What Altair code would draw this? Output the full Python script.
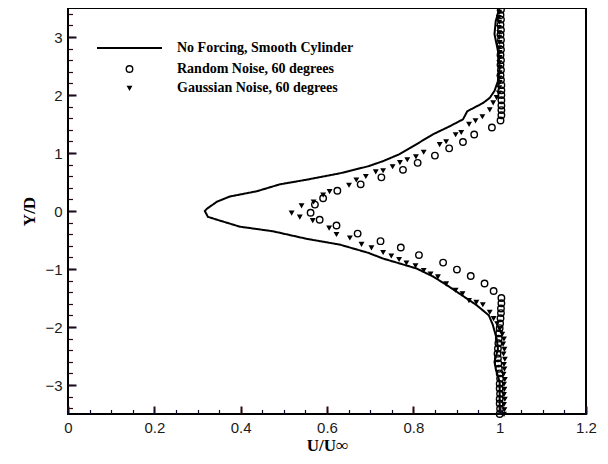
import altair as alt
import pandas as pd

LINE_NAME = "No Forcing, Smooth Cylinder"
RN_NAME = "Random Noise, 60 degrees"
GN_NAME = "Gaussian Noise, 60 degrees"

# Smooth cylinder (solid line): Y/D and U/Uinf
line_y = [3.5, 3.45, 3.28, 3.05, 2.76, 2.47, 2.24, 2.07, 1.95, 1.86, 1.72, 1.58, 1.46, 1.32,
          1.15, 0.98, 0.86, 0.77, 0.65, 0.54, 0.46, 0.34, 0.25, 0.16, 0.04, 0.0, -0.1, -0.15,
          -0.27, -0.35, -0.48, -0.58, -0.72, -0.82, -0.99, -1.13, -1.31, -1.62, -1.8, -1.96,
          -2.2, -2.38, -2.6, -2.72, -2.95, -3.5]
line_u = [1.0, 0.998, 0.991, 0.988, 0.996, 1.0, 0.996, 0.988, 0.977, 0.961, 0.925, 0.915, 0.884, 0.845,
          0.807, 0.768, 0.73, 0.695, 0.63, 0.553, 0.491, 0.437, 0.375, 0.345, 0.322, 0.317, 0.324, 0.345,
          0.398, 0.475, 0.553, 0.63, 0.695, 0.73, 0.807, 0.846, 0.884, 0.946, 0.975, 0.984,
          0.993, 0.996, 0.988, 0.991, 1.0, 1.0]

# Random noise (open circles)
rn_y = [3.47, 3.38, 3.30, 3.21, 3.12, 3.04, 2.95, 2.86, 2.78, 2.69,
        2.60, 2.52, 2.43, 2.34, 2.26, 2.17, 2.08, 2.00, 1.91, 1.82,
        1.74, 1.65, 1.56,
        1.44, 1.32, 1.19, 1.08, 0.955, 0.83, 0.71, 0.58, 0.46, 0.35,
        0.22, 0.11, -0.03, -0.15, -0.25, -0.39, -0.52, -0.63, -0.76, -0.89,
        -1.01, -1.12, -1.25, -1.38,
        -1.50, -1.59, -1.68, -1.76, -1.85, -1.94, -2.02, -2.11, -2.20, -2.28,
        -2.37, -2.46, -2.54, -2.63, -2.72, -2.80, -2.89, -2.98, -3.06, -3.15,
        -3.24, -3.32, -3.41, -3.50]
rn_u = [1.003, 1.002, 1.003, 1.002, 1.003, 1.002, 1.003, 1.002, 1.003, 1.002,
        1.003, 1.002, 1.003, 1.002, 1.003, 1.004, 1.004, 1.004, 1.004, 1.004,
        1.004, 1.004, 1.002,
        0.982, 0.941, 0.915, 0.883, 0.85, 0.81, 0.776, 0.726, 0.678, 0.624,
        0.591, 0.572, 0.562, 0.583, 0.622, 0.671, 0.724, 0.771, 0.813, 0.869,
        0.901, 0.933, 0.965, 0.986,
        1.004, 1.004, 1.003, 1.003, 1.002, 1.001, 1.0, 0.999, 0.998, 0.997,
        0.996, 0.995, 0.996, 0.997, 0.998, 1.0, 1.001, 1.0, 1.0, 1.001,
        1.0, 1.0, 1.001, 1.0]

# Gaussian noise (filled down-triangles)
gn_y = [3.43, 3.34, 3.26, 3.17, 3.08, 3.00, 2.91, 2.82, 2.74, 2.65,
        2.56, 2.48, 2.39, 2.30, 2.22, 2.13, 2.04, 1.96,
        1.87, 1.75, 1.63, 1.56, 1.50, 1.36, 1.32, 1.20, 1.15, 1.02,
        0.94, 0.89, 0.84, 0.77, 0.70, 0.68, 0.60, 0.54,
        0.45, 0.34, 0.28, 0.16, 0.095, -0.03, -0.10, -0.16, -0.29, -0.40, -0.46,
        -0.57, -0.63, -0.71, -0.77, -0.83, -0.89, -0.94, -1.02, -1.08, -1.13,
        -1.25, -1.36, -1.42, -1.54, -1.57, -1.61, -1.74, -1.85, -1.94,
        -2.03, -2.12, -2.20, -2.29, -2.38, -2.46, -2.55, -2.64, -2.72, -2.81,
        -2.90, -2.98, -3.07, -3.16, -3.24, -3.33, -3.42, -3.50]
gn_u = [0.999, 0.998, 0.999, 0.998, 0.999, 0.999, 1.0, 0.999, 1.0, 1.0,
        0.999, 1.0, 1.0, 0.999, 1.0, 0.999, 0.998, 0.993,
        0.985, 0.977, 0.96, 0.944, 0.929, 0.911, 0.898, 0.876, 0.861, 0.824,
        0.806, 0.786, 0.769, 0.752, 0.73, 0.713, 0.69, 0.668,
        0.651, 0.606, 0.591, 0.569, 0.541, 0.518, 0.537, 0.567, 0.605, 0.622, 0.653,
        0.68, 0.703, 0.73, 0.749, 0.767, 0.784, 0.805, 0.824, 0.84, 0.857,
        0.876, 0.898, 0.914, 0.929, 0.946, 0.961, 0.977, 0.986, 0.994,
        1.0, 1.006, 1.01, 1.008, 1.011, 1.009, 1.012, 1.01, 1.011, 1.009,
        1.012, 1.01, 1.011, 1.01, 1.012, 1.01, 1.011, 1.01]

x_major = [0, 0.2, 0.4, 0.6, 0.8, 1.0, 1.2]
x_minor = [round(i * 0.05, 2) for i in range(25)]
y_major = [-3, -2, -1, 0, 1, 2, 3]
y_minor = [round(-3.4 + i * 0.2, 1) for i in range(35)]

line_df = pd.DataFrame({"u": line_u, "Y": line_y, "i": list(range(len(line_y))),
                        "s": [LINE_NAME] * len(line_y)})
pts_df = pd.DataFrame({
    "u": rn_u + gn_u,
    "Y": rn_y + gn_y,
    "series": [RN_NAME] * len(rn_y) + [GN_NAME] * len(gn_y),
})

xs = alt.Scale(domain=[0, 1.2], nice=False, zero=False)
ys = alt.Scale(domain=[-3.5, 3.5], nice=False, zero=False)

TICK_FONT = "Liberation Sans"
SERIF = "Liberation Serif"

x_major_axis = alt.Axis(values=x_major, format="~g", orient="bottom", offset=-8, tickSize=8,
                        tickWidth=2, tickColor="#2a0a0a", domain=False, grid=False, zindex=1,
                        labelFont=TICK_FONT, labelFontSize=15, labelColor="#1a1a1a",
                        labelPadding=6, labelFlush=False, labelOverlap=False,
                        title="U/U∞", titleFont=SERIF, titleFontWeight="bold",
                        titleFontSize=17, titleColor="black", titlePadding=2)
x_minor_axis = alt.Axis(values=x_minor, orient="bottom", offset=-4.5, tickSize=4.5,
                        tickWidth=1.2, tickColor="#0a0a2a", domain=False, grid=False, zindex=1,
                        labels=False, title=None)
y_major_axis = alt.Axis(values=y_major, format="~g", orient="left", offset=-8, tickSize=8,
                        tickWidth=2, tickColor="#0a0a2a", domain=False, grid=False, zindex=1,
                        labelFont=TICK_FONT, labelFontSize=15, labelColor="#1a1a1a",
                        labelPadding=6, labelFlush=False, labelOverlap=False,
                        title="Y/D", titleFont=SERIF, titleFontWeight="bold",
                        titleFontSize=17, titleColor="black", titlePadding=6)
y_minor_axis = alt.Axis(values=y_minor, orient="left", offset=-4.5, tickSize=4.5,
                        tickWidth=1.2, tickColor="#2a0a0a", domain=False, grid=False, zindex=1,
                        labels=False, title=None)

line = alt.Chart(line_df).mark_line(color="black", strokeWidth=2).encode(
    x=alt.X("u:Q", scale=xs, axis=x_major_axis),
    y=alt.Y("Y:Q", scale=ys, axis=y_major_axis),
    order="i:Q",
    strokeDash=alt.StrokeDash(
        "s:N",
        scale=alt.Scale(domain=[LINE_NAME], range=[[1, 0]]),
        legend=alt.Legend(orient="none", legendX=28, legendY=6.5, title=None, padding=0,
                          symbolSize=4225, symbolStrokeWidth=2, symbolStrokeColor="black",
                          labelOffset=14, labelFont=SERIF, labelFontWeight="bold",
                          labelFontSize=14, labelColor="black", labelLimit=400),
    ),
)

pts_legend = alt.Legend(orient="none", legendX=54.5, legendY=54, title=None, padding=0,
                        columns=1, rowPadding=5, symbolStrokeColor="black",
                        symbolStrokeWidth=1.4, labelOffset=40.5, labelFont=SERIF,
                        labelFontWeight="bold", labelFontSize=14, labelColor="black",
                        labelLimit=400)

dom = [RN_NAME, GN_NAME]
pts = alt.Chart(pts_df).mark_point(strokeWidth=1.4, opacity=1).encode(
    x=alt.X("u:Q", scale=xs, axis=x_minor_axis),
    y=alt.Y("Y:Q", scale=ys, axis=y_minor_axis),
    shape=alt.Shape("series:N", scale=alt.Scale(domain=dom, range=["circle", "triangle-down"]),
                    legend=pts_legend),
    fill=alt.Fill("series:N", scale=alt.Scale(domain=dom, range=["transparent", "black"]),
                  legend=pts_legend),
    stroke=alt.Stroke("series:N", scale=alt.Scale(domain=dom, range=["black", "black"]),
                      legend=pts_legend),
    size=alt.Size("series:N", scale=alt.Scale(domain=dom, range=[42, 12]),
                  legend=pts_legend),
)

chart = alt.layer(line, pts).resolve_axis(x="independent", y="independent").properties(
    width=518, height=406,
    autosize=alt.AutoSizeParams(type="none"),
    padding={"left": 60, "top": 0, "right": 14, "bottom": 42},
    background="white",
).configure_view(stroke="black", strokeWidth=2)

chart.save("out.html", embed_options={"renderer": "svg", "actions": False})
